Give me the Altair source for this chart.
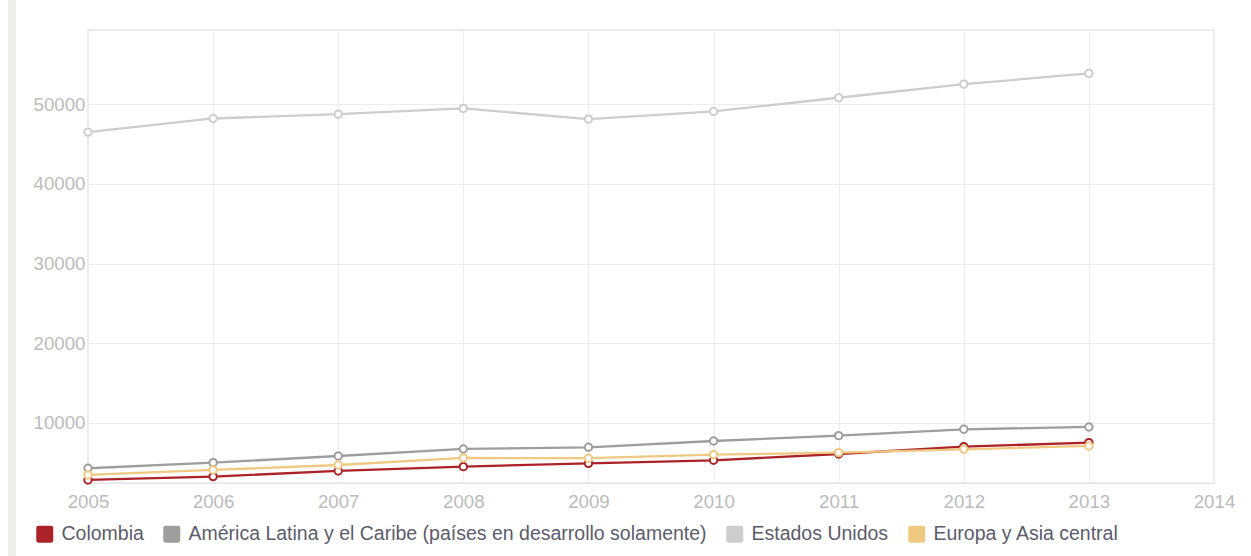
import altair as alt
import pandas as pd

years = [2005, 2006, 2007, 2008, 2009, 2010, 2011, 2012, 2013]
series_names = [
    "Colombia",
    "América Latina y el Caribe (países en desarrollo solamente)",
    "Estados Unidos",
    "Europa y Asia central",
]
colombia = [2850, 3270, 3980, 4520, 4940, 5320, 6110, 7030, 7530]
latam = [4320, 5020, 5860, 6740, 6950, 7740, 8410, 9210, 9500]
usa = [46490, 48200, 48750, 49460, 48120, 49080, 50800, 52500, 53850]
europa = [3480, 4110, 4730, 5610, 5580, 6030, 6280, 6700, 7120]
colors = ["#ab2328", "#9e9e9e", "#cdcdcd", "#efc982"]

y_ticks = [10000, 20000, 30000, 40000, 50000]
x_ticks = [2005, 2006, 2007, 2008, 2009, 2010, 2011, 2012, 2013, 2014]

rows = []
for name, vals in zip(series_names, [colombia, latam, usa, europa]):
    for yr, v in zip(years, vals):
        rows.append({"Año": yr, "Valor": v, "Serie": name})
df = pd.DataFrame(rows)

rounded_sq = ("M -0.75 -1 L 0.75 -1 Q 1 -1 1 -0.75 L 1 0.75 Q 1 1 0.75 1 "
              "L -0.75 1 Q -1 1 -1 0.75 L -1 -0.75 Q -1 -1 -0.75 -1 Z")

color_scale = alt.Scale(domain=series_names, range=colors)

x_enc = alt.X("Año:Q", scale=alt.Scale(domain=[2005, 2014], nice=False, zero=False),
              axis=alt.Axis(values=x_ticks, format="d", title=None, labelFontSize=18.7,
                            labelColor="#bbbbbb", ticks=False, labelPadding=9,
                            domainColor="#e6e6e6", gridColor="#ececec", labelFlush=False))
y_enc = alt.Y("Valor:Q", scale=alt.Scale(domain=[2470, 59300], nice=False, zero=False),
              axis=alt.Axis(values=y_ticks, format="d", title=None, labelFontSize=18.7,
                            labelColor="#bbbbbb", ticks=False, labelPadding=3,
                            domain=False, gridColor="#ececec"))

base = alt.Chart(df)

legend_layer = base.mark_square(size=0, filled=True, opacity=1).encode(
    x=x_enc, y=y_enc,
    color=alt.Color("Serie:N", scale=color_scale, sort=series_names,
                    legend=alt.Legend(title=None, orient="none", legendX=-53, legendY=494,
                                      direction="horizontal", symbolType=rounded_sq,
                                      symbolSize=289, symbolStrokeWidth=0, symbolOpacity=1,
                                      labelFontSize=19.5, labelColor="#5c5c6c",
                                      labelOffset=7, columnPadding=18, columns=4,
                                      labelLimit=700)),
)

lines = base.mark_line(strokeWidth=2.3).encode(
    x="Año:Q", y="Valor:Q",
    color=alt.Color("Serie:N", scale=color_scale, legend=None),
    detail="Serie:N",
)
points = base.mark_point(filled=False, fill="white", fillOpacity=1, size=55,
                         strokeWidth=2, opacity=1).encode(
    x="Año:Q", y="Valor:Q",
    color=alt.Color("Serie:N", scale=color_scale, legend=None),
)

strip = alt.Chart(pd.DataFrame({"k": [0]})).mark_rect(color="#f0eee9").encode(
    x=alt.value(-80), x2=alt.value(-72), y=alt.value(-30), y2=alt.value(526)
)

chart = alt.layer(strip, legend_layer, lines, points).properties(
    width=1126, height=453,
    autosize=alt.AutoSizeParams(type="none"),
    padding={"left": 88, "top": 30, "right": 37, "bottom": 73},
).configure(font="Liberation Sans").configure_view(stroke="#e6e6e6", strokeWidth=1.5)

chart.save("out.html", embed_options={"renderer": "svg", "actions": False})
